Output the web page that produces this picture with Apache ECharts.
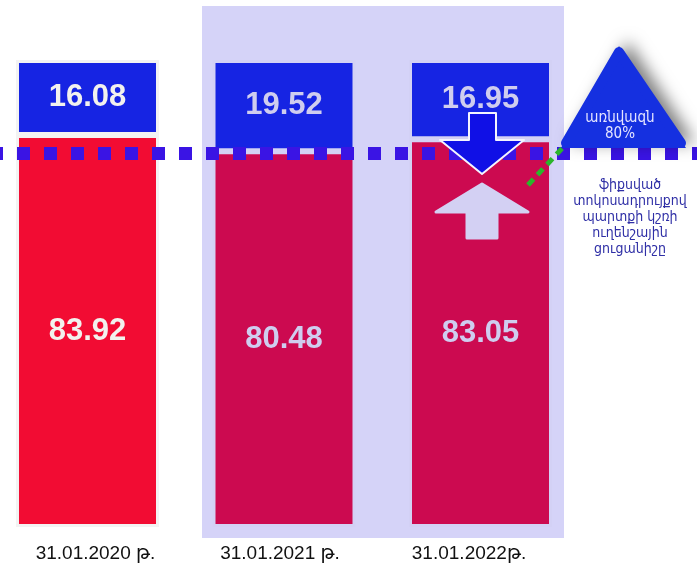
<!DOCTYPE html>
<html>
<head>
<meta charset="utf-8">
<script src="https://cdn.jsdelivr.net/npm/echarts@6/dist/echarts.min.js"></script>
<style>
  html, body { margin: 0; padding: 0; background: #fff; }
  #chart { width: 697px; height: 567px; }
</style>
</head>
<body>
<div id="chart"></div>
<script>
// data
const categories = ['31.01.2020 թ.', '31.01.2021 թ.', '31.01.2022թ.']
const fixedShare = [83.92, 80.48, 83.05]   // red
const floatShare = [16.08, 19.52, 16.95]   // blue
const targetLineX = [0, 1]
const targetLineY = [80, 80]

const redColors = ['#f20c33', '#cc0a50', '#cc0a50']
const frameColors = ['#f3f3f3', '#d3d1f5', '#d3d1f5']
const labelColors = ['#f2f2ee', '#cfcdef', '#cfcdef']

const chart = echarts.init(document.getElementById('chart'))

const numLabel = (i) => ({
  show: true,
  position: 'inside',
  fontSize: 31,
  fontWeight: 'bold',
  fontFamily: 'Liberation Sans',
  color: labelColors[i],
  formatter: (p) => p.value.toFixed(2)
})

chart.setOption({
  animation: false,
  grid: [
    {left: 87.5, width: 393, top: 60, bottom: 40},
    {left: 0, right: 0, top: 60, bottom: 40}
  ],
  xAxis: [
    {
      type: 'category',
      gridIndex: 0,
      boundaryGap: false,
      data: categories,
      axisLine: {show: false},
      axisTick: {show: false},
      axisLabel: {
        interval: 0,
        fontSize: 19,
        color: '#111',
        fontFamily: 'Liberation Sans, DejaVu Sans',
        margin: 17,
        formatter: (v, i) => '{c' + i + '|' + v + '}',
        rich: {
          c0: {padding: [0, 0, 0, 16]},
          c1: {padding: [0, 8, 0, 0]},
          c2: {padding: [0, 23, 0, 0]}
        }
      }
    },
    {type: 'value', gridIndex: 1, min: 0, max: 1, show: false}
  ],
  yAxis: [
    {type: 'value', gridIndex: 0, min: 0, max: 100, show: false},
    {type: 'value', gridIndex: 1, min: 0, max: 100, show: false}
  ],
  graphic: [
    // shaded period
    {type: 'rect', z: 0, shape: {x: 202, y: 6, width: 362, height: 532}, style: {fill: '#d5d3f8'}},
    // down arrow
    {
      type: 'polygon', z: 100,
      shape: {points: [[469, 113], [496, 113], [496, 140], [524, 140], [482, 174], [440, 140], [469, 140]]},
      style: {fill: '#1010e6', stroke: '#f4f4ff', lineWidth: 2, lineJoin: 'round'}
    },
    // up arrow
    {
      type: 'polygon', z: 100,
      shape: {points: [[482, 184], [528, 212], [497, 212], [497, 238], [467, 238], [467, 212], [436, 212]]},
      style: {fill: '#d3d0f3', stroke: '#d3d0f3', lineWidth: 3, lineJoin: 'round'}
    },
    // green connector
    {
      type: 'line', z: 100,
      shape: {x1: 528, y1: 185, x2: 567, y2: 143},
      style: {stroke: '#2bb52b', lineWidth: 5, lineDash: [8, 6]}
    },
    // triangle shadow + body
    {
      type: 'polygon', z: 99,
      shape: {points: [[619, 46], [686, 148], [561, 148]]},
      style: {
        fill: '#1530e0',
        shadowBlur: 16, shadowColor: 'rgba(0,0,0,0.5)', shadowOffsetX: 9, shadowOffsetY: -5
      }
    },
    {
      type: 'polygon', z: 100,
      shape: {points: [[619, 52], [681, 143], [566, 143]]},
      style: {fill: '#1530e0', stroke: '#1530e0', lineWidth: 10, lineJoin: 'round'}
    },
    {
      type: 'text', z: 101, x: 620, y: 126,
      style: {
        text: 'առնվազն\n80%', fill: '#e4e4ff', fontSize: 15, lineHeight: 16,
        fontFamily: 'DejaVu Sans Condensed, DejaVu Sans', align: 'center', verticalAlign: 'middle'
      }
    },
    {
      type: 'text', z: 101, x: 630, y: 177,
      style: {
        text: 'ֆիքսված\nտոկոսադրույքով\nպարտքի կշռի\nուղենշային\nցուցանիշը',
        fill: '#2f2fa6', fontSize: 14, lineHeight: 16,
        fontFamily: 'DejaVu Sans Condensed, DejaVu Sans', align: 'center', verticalAlign: 'top'
      }
    }
  ],
  series: [
    {
      name: 'fixed',
      type: 'bar',
      stack: 'a',
      xAxisIndex: 0, yAxisIndex: 0,
      barWidth: 143,
      clip: false,
      z: 2,
      data: fixedShare.map((v, i) => ({
        value: v,
        itemStyle: {color: redColors[i], borderColor: frameColors[i], borderWidth: 3},
        label: numLabel(i)
      }))
    },
    {
      name: 'floating',
      type: 'bar',
      stack: 'a',
      xAxisIndex: 0, yAxisIndex: 0,
      barWidth: 143,
      clip: false,
      z: 2,
      data: floatShare.map((v, i) => ({
        value: v,
        itemStyle: {color: '#1624e3', borderColor: frameColors[i], borderWidth: 3},
        label: numLabel(i)
      }))
    },
    {
      name: 'target',
      type: 'line',
      xAxisIndex: 1, yAxisIndex: 1,
      z: 5,
      symbol: 'none',
      silent: true,
      data: targetLineX.map((x, i) => [x, targetLineY[i]]),
      lineStyle: {color: '#3a14e4', width: 13, type: [13, 14], dashOffset: 10, cap: 'butt'}
    }
  ]
})
</script>
</body>
</html>
